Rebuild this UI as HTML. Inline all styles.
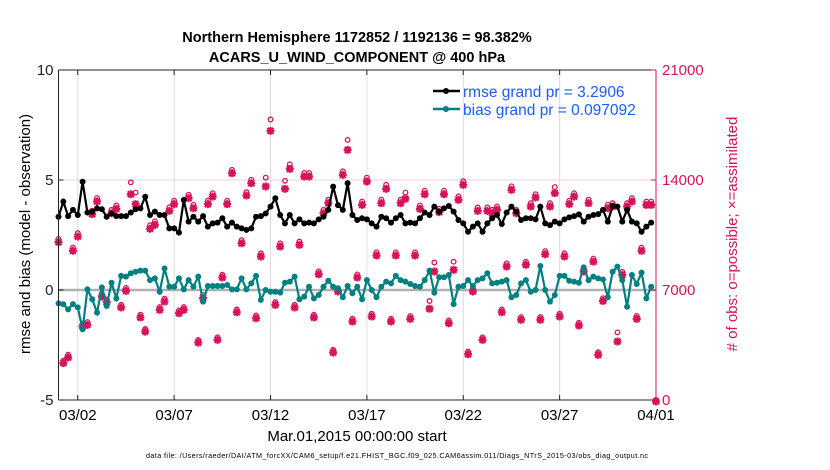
<!DOCTYPE html>
<html><head><meta charset="utf-8"><style>
body{margin:0;background:#fff;width:830px;height:470px;overflow:hidden}
svg{display:block;font-family:"Liberation Sans",sans-serif}
</style></head><body>
<svg id="chart" width="830" height="470">
<text x="357" y="42" text-anchor="middle" font-size="14.5" font-weight="bold">Northern Hemisphere 1172852 / 1192136 = 98.382%</text>
<text x="357" y="62" text-anchor="middle" font-size="14.5" font-weight="bold">ACARS_U_WIND_COMPONENT @ 400 hPa</text>
<g id="grid"></g>
<g id="marks"></g>
<g id="axes"></g>
<text transform="translate(30,234) rotate(-90)" text-anchor="middle" font-size="15">rmse and bias (model - observation)</text>
<text transform="translate(737,234) rotate(-90)" text-anchor="middle" font-size="15" fill="#d6135a"># of obs: o=possible; ×=assimilated</text>
<text x="357" y="441" text-anchor="middle" font-size="15">Mar.01,2015 00:00:00 start</text>
<text x="397" y="458" text-anchor="middle" font-size="7.2" textLength="502">data file: /Users/raeder/DAI/ATM_forcXX/CAM6_setup/f.e21.FHIST_BGC.f09_025.CAM6assim.011/Diags_NTrS_2015-03/obs_diag_output.nc</text>
<g>
<line x1="433" y1="91" x2="460" y2="91" stroke="#000" stroke-width="2.5"/>
<circle cx="446" cy="91" r="3" fill="#000"/>
<text x="463" y="97" font-size="15.5" fill="#1a5cff">rmse grand pr = 3.2906</text>
<line x1="433" y1="109" x2="460" y2="109" stroke="#008080" stroke-width="2.5"/>
<circle cx="446" cy="109" r="3" fill="#008080"/>
<text x="463" y="115" font-size="15.5" fill="#1a5cff">bias grand pr = 0.097092</text>
</g>
</svg>
<script>
const rmse=[3.33,4.02,3.36,3.64,3.41,4.92,3.52,3.56,3.71,3.67,3.33,3.48,3.36,3.36,3.36,3.52,3.67,3.71,4.24,3.41,3.56,3.41,3.41,2.80,2.80,2.61,4.09,3.11,3.33,3.11,3.36,2.88,3.03,3.06,3.26,2.88,3.06,2.88,2.80,2.73,2.80,3.33,3.36,3.48,3.79,
4.17,3.41,3.03,3.41,3.03,3.21,3.03,3.06,3.03,3.21,3.33,3.64,4.70,3.86,3.64,4.85,3.41,3.18,3.26,3.21,3.03,2.88,3.33,3.26,3.06,3.26,3.41,3.03,3.06,3.03,3.26,3.52,3.41,3.79,3.56,3.71,3.82,3.56,3.18,3.03,2.65,2.88,
3.03,2.65,3.03,3.26,3.41,3.00,3.52,3.79,3.56,3.18,3.26,3.26,3.21,3.79,3.03,2.95,3.11,3.03,3.21,3.30,3.36,3.44,3.11,3.33,3.41,3.45,3.64,3.11,3.82,3.79,3.11,3.64,3.11,3.03,2.65,2.88,3.06];
const bias=[-0.61,-0.65,-0.88,-0.64,-0.79,-1.79,0.03,-0.42,-1.03,0.12,-0.73,0.33,-0.38,0.64,0.61,0.76,0.83,0.88,0.88,0.45,0.53,-0.08,0.98,0.15,0.15,0.53,0.03,0.45,0.15,0.61,-0.53,0.18,0.18,0.18,0.18,0.23,0.03,0.03,0.53,0.03,0.30,0.64,-0.45,0,-0.08,-0.08,
-0.12,0.33,0.38,0.61,-0.42,-0.30,0.15,-0.38,-0.23,0.15,0.42,0.15,0.08,-0.33,0.18,-0.15,0.15,-0.42,0.45,0,-0.33,0.15,0.38,0.30,0.64,0.45,0.38,0.27,0.18,0.15,0.45,0.88,-0.12,0.58,0.58,0.68,-0.64,0.15,0.18,0.45,0.18,0.45,
0.53,0.76,0.30,0.33,0.38,0.45,-0.33,-0.23,0.30,0.45,-0.08,0,1.09,0,-0.53,-0.23,0.64,0.64,0.42,0.38,0.33,1.03,0.45,0.61,0.53,0.48,-0.33,0.83,1.06,0.45,-0.76,0.68,0.27,0.79,-0.38,0.15];
const nUsed=[10140,2440,2800,9590,10500,4770,4880,11920,12730,6680,6320,11980,12260,5980,7040,13190,12560,5350,4450,10990,11240,5830,6360,12130,12560,5620,5830,12940,12300,3750,6580,12560,13040,3920,7890,12560,14530,5680,10070,13110,13890,5300,9230,13680,17220,6150,9860,
13530,14800,5980,9970,14320,14320,5350,8100,11980,12620,3120,7000,14420,16010,5090,7890,12510,14000,5410,9290,12620,13530,5090,9290,12620,12900,5260,9290,12260,13190,5900,8270,12050,13190,4980,8380,12830,13790,3010,7000,12130,
3920,12130,11980,12200,5680,8590,13470,11980,5200,8700,12410,12980,5200,9370,12410,13260,5410,9230,12560,13040,4840,8270,12620,8900,2970,6400,12300,12410,3820,8060,12410,12730,5260,9590,12510,12510,0];
const nPoss=[10250,2500,2880,9700,10620,4850,4960,12050,12850,6760,6400,12100,12380,6060,7130,13850,13200,5430,4520,11120,11370,5910,6450,12260,12680,5700,5910,13060,12420,3820,6680,12680,13160,3990,7970,12680,14650,5760,10180,13230,14020,5380,9330,14150,17850,6230,9970,
13950,15000,6060,10080,14450,14450,5430,8190,12100,12750,3190,7100,14550,16550,5170,7990,12630,14150,5490,9400,12750,13700,5170,9400,12750,13200,5340,9400,12380,13320,6300,8750,12170,13320,5060,8800,12950,13920,3080,7100,12250,
3990,12250,12100,12320,5760,8700,13600,12100,5280,8800,12530,13100,5280,9480,12530,13550,5490,9330,12680,13160,4920,8380,12750,9000,3040,6480,12420,12530,4300,8160,12530,12850,5340,9700,12630,12630,0];
const xTickLabels=["03/02","03/07","03/12","03/17","03/22","03/27","04/01"];
const xTickDays=[1,6,11,16,21,26,31];
const yTicks=[-5,0,5,10];
const y2Ticks=[0,7000,14000,21000];

const NS="http://www.w3.org/2000/svg";
const L=58.5,R=656,T=70,B=400;
const xs=d=>L+(R-L)*d/31;
const xi=i=>xs(i*0.25);
const ys=v=>T+(10-v)*(B-T)/15;
const ys2=c=>B-c*(B-T)/21000;
const PINK="#d6135a";
function mk(tag,parent,attrs){const e=document.createElementNS(NS,tag);for(const k in attrs)e.setAttribute(k,attrs[k]);parent.appendChild(e);return e;}
const grid=document.getElementById('grid'),marks=document.getElementById('marks'),axes=document.getElementById('axes');

xTickDays.forEach((d,k)=>{
  const g=mk('line',grid,{x1:xs(d),x2:xs(d),y1:T,y2:B,stroke:'#dcdcdc','stroke-width':1});
  
  
  const t=mk('line',axes,{x1:xs(d),x2:xs(d),y1:B,y2:B-5,stroke:'#222'});
  
  
  const t2=mk('line',axes,{x1:xs(d),x2:xs(d),y1:T,y2:T+5,stroke:'#222'});
  
  
  const lb=mk('text',axes,{x:xs(d),y:420,'text-anchor':'middle','font-size':15});
  lb.textContent=xTickLabels[k];
  
  
});
const hg=mk('line',grid,{x1:L,x2:R,y1:ys(5),y2:ys(5),stroke:'#f0d0dc','stroke-width':1});


const zl=mk('line',grid,{x1:L,x2:R,y1:ys(0),y2:ys(0),stroke:'#b0b0b0','stroke-width':2.5});



nPoss.forEach((c,i)=>{
  const o=mk('circle',marks,{cx:xi(i),cy:ys2(c),r:2.3,fill:'none',stroke:PINK,'stroke-width':1.3});
  
  
});
nUsed.forEach((c,i)=>{
  const x=xi(i),y=ys2(c)+1.5,s=4;
  const p=mk('path',marks,{d:`M${x-s},${y}H${x+s}M${x},${y-s}V${y+s}M${x-3},${y-3}L${x+3},${y+3}M${x-3},${y+3}L${x+3},${y-3}`,stroke:PINK,'stroke-width':2.2});
  
  
});
function series(arr,col,name){
  const pl=mk('polyline',marks,{points:arr.map((v,i)=>xi(i)+','+ys(v)).join(' '),fill:'none',stroke:col,'stroke-width':2.2});
  
  
  arr.forEach((v,i)=>{
    const c=mk('circle',marks,{cx:xi(i),cy:ys(v),r:3,fill:col});
    
    
  });
}
series(rmse,'#000','rmse');
series(bias,'#008080','bias');

const ta=mk('path',axes,{d:`M${L},${T}H${R}M${L},${B}H${R}`,stroke:'#222','stroke-width':1,fill:'none'});


const la=mk('line',axes,{x1:L,x2:L,y1:T,y2:B,stroke:'#222'});


const ra=mk('line',axes,{x1:R,x2:R,y1:T,y2:B,stroke:PINK});


yTicks.forEach(v=>{
  const t=mk('line',axes,{x1:L,x2:L+5,y1:ys(v),y2:ys(v),stroke:'#222'});
  
  
  const lb=mk('text',axes,{x:L-5,y:ys(v)+5,'text-anchor':'end','font-size':15,fill:'#222'});
  lb.textContent=v;
  
  
});
y2Ticks.forEach(v=>{
  const t=mk('line',axes,{x1:R-5,x2:R,y1:ys2(v),y2:ys2(v),stroke:PINK});
  
  
  const lb=mk('text',axes,{x:R+6,y:ys2(v)+5,'font-size':15,fill:PINK});
  lb.textContent=v;
  
  
});
</script>
</body></html>
